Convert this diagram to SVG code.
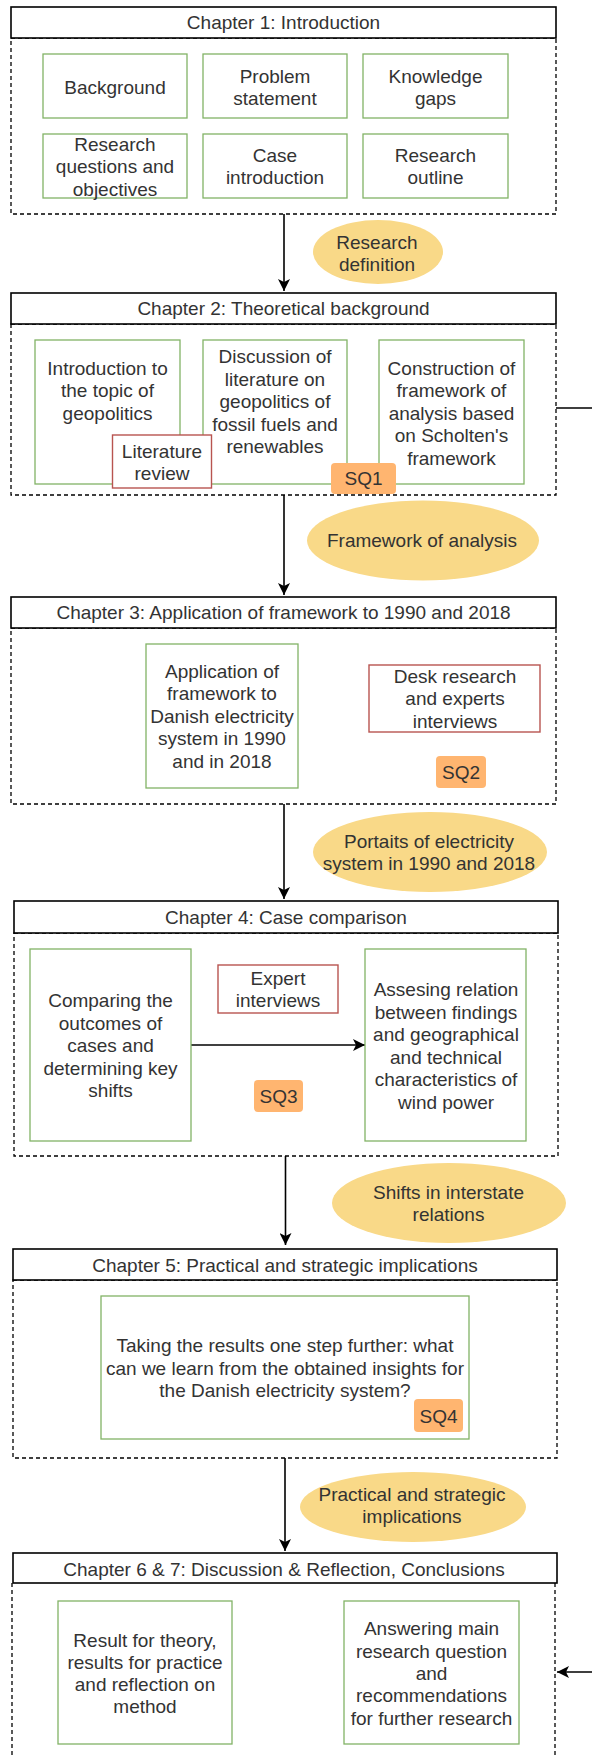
<svg xmlns="http://www.w3.org/2000/svg" width="592" height="1756" viewBox="0 0 592 1756">
<style>
text{font-family:"Liberation Sans",Arial,Helvetica,sans-serif;font-size:19px;fill:#333;text-anchor:middle}
.hdr{fill:#fff;stroke:#000;stroke-width:1.6}
.cont{fill:none;stroke:#000;stroke-width:1.3;stroke-dasharray:4 3}
.g{fill:#fff;stroke:#82b366;stroke-width:1.3}
.r{fill:#fff;stroke:#b85450;stroke-width:1.4}
.sq{fill:#FFB570;stroke:none}
.ell{fill:#F9D988;stroke:none}
.c{fill:none;stroke:#000;stroke-width:1.6}
</style>
<defs>
<marker id="ah" markerUnits="userSpaceOnUse" markerWidth="13" markerHeight="12" refX="12" refY="6" orient="auto">
<path d="M0,0 L12,6 L0,12 L3,6 z" fill="#000"/>
</marker>
</defs>
<rect width="592" height="1756" fill="#fff"/>

<g id="chapter1">
<rect class="cont" x="11" y="38" width="545" height="176"/>
<rect class="hdr" x="11" y="7" width="545" height="31"/>
<text x="283.5" y="29">Chapter 1: Introduction</text>
</g>
<g id="background"><rect class="g" x="43" y="54" width="144" height="64"/><text x="115" y="93.5">Background</text></g>
<g id="problem"><rect class="g" x="203" y="54" width="144" height="64"/><text x="275" y="82.5">Problem</text><text x="275" y="105">statement</text></g>
<g id="gaps"><rect class="g" x="363" y="54" width="145" height="64"/><text x="435.5" y="82.5">Knowledge</text><text x="435.5" y="105">gaps</text></g>
<g id="questions"><rect class="g" x="43" y="134" width="144" height="64"/><text x="115" y="151">Research</text><text x="115" y="173.3">questions and</text><text x="115" y="195.5">objectives</text></g>
<g id="case"><rect class="g" x="203" y="134" width="144" height="64"/><text x="275" y="162">Case</text><text x="275" y="184">introduction</text></g>
<g id="outline"><rect class="g" x="363" y="134" width="145" height="64"/><text x="435.5" y="162">Research</text><text x="435.5" y="184">outline</text></g>

<g id="connectors">
<path class="c" d="M284,214 V291" marker-end="url(#ah)"/>
<path class="c" d="M284,495 V595" marker-end="url(#ah)"/>
<path class="c" d="M284,804 V899" marker-end="url(#ah)"/>
<path class="c" d="M285.5,1156 V1245" marker-end="url(#ah)"/>
<path class="c" d="M285,1458 V1551" marker-end="url(#ah)"/>
<path class="c" d="M191,1045 H365" marker-end="url(#ah)"/>
<path class="c" d="M556,408 H620 V1672 H557" marker-end="url(#ah)"/>
</g>

<g id="research-definition"><ellipse class="ell" cx="378" cy="252" rx="65" ry="32"/><text x="377" y="248.8">Research</text><text x="377" y="270.5">definition</text></g>

<g id="chapter2">
<rect class="cont" x="11" y="324" width="545" height="171"/>
<rect class="hdr" x="11" y="293" width="545" height="31"/>
<text x="283.5" y="315">Chapter 2: Theoretical background</text>
</g>
<g id="intro-geo"><rect class="g" x="35" y="340" width="145" height="144"/><text x="107.5" y="374.8">Introduction to</text><text x="107.5" y="397.3">the topic of</text><text x="107.5" y="419.8">geopolitics</text></g>
<g id="discussion"><rect class="g" x="203" y="340" width="144" height="144"/><text x="275" y="363.2">Discussion of</text><text x="275" y="385.7">literature on</text><text x="275" y="408.2">geopolitics of</text><text x="275" y="430.7">fossil fuels and</text><text x="275" y="453.2">renewables</text></g>
<g id="construction"><rect class="g" x="379" y="340" width="145" height="144"/><text x="451.5" y="374.8">Construction of</text><text x="451.5" y="397.3">framework of</text><text x="451.5" y="419.8">analysis based</text><text x="451.5" y="442.3">on Scholten's</text><text x="451.5" y="464.8">framework</text></g>
<g id="literature-review"><rect class="r" x="112.5" y="435" width="99" height="53"/><text x="162" y="457.5">Literature</text><text x="162" y="480">review</text></g>
<g id="sq1"><rect class="sq" x="331" y="463" width="65" height="31" rx="4"/><text x="363.5" y="485">SQ1</text></g>

<g id="framework-analysis"><ellipse class="ell" cx="423" cy="540.5" rx="116" ry="40"/><text x="422" y="547">Framework of analysis</text></g>

<g id="chapter3">
<rect class="cont" x="11" y="628" width="545" height="176"/>
<rect class="hdr" x="11" y="597" width="545" height="31"/>
<text x="283.5" y="619">Chapter 3: Application of framework to 1990 and 2018</text>
</g>
<g id="application"><rect class="g" x="146" y="644" width="152" height="144"/><text x="222" y="677.5">Application of</text><text x="222" y="700">framework to</text><text x="222" y="722.5">Danish electricity</text><text x="222" y="745">system in 1990</text><text x="222" y="767.5">and in 2018</text></g>
<g id="desk-research"><rect class="r" x="369" y="665" width="171" height="67"/><text x="455" y="682.5">Desk research</text><text x="455" y="705">and experts</text><text x="455" y="727.5">interviews</text></g>
<g id="sq2"><rect class="sq" x="436" y="756" width="50" height="32" rx="4"/><text x="461" y="778.5">SQ2</text></g>

<g id="portraits"><ellipse class="ell" cx="430" cy="852" rx="117" ry="40"/><text x="429" y="848.2">Portaits of electricity</text><text x="429" y="870">system in 1990 and 2018</text></g>

<g id="chapter4">
<rect class="cont" x="14" y="933" width="544" height="223"/>
<rect class="hdr" x="14" y="901" width="544" height="32"/>
<text x="286" y="924.2">Chapter 4: Case comparison</text>
</g>
<g id="comparing"><rect class="g" x="30" y="949" width="161" height="192"/><text x="110.5" y="1007">Comparing the</text><text x="110.5" y="1029.5">outcomes of</text><text x="110.5" y="1052">cases and</text><text x="110.5" y="1074.5">determining key</text><text x="110.5" y="1097">shifts</text></g>
<g id="assesing"><rect class="g" x="365" y="949" width="161" height="192"/><text x="446" y="996">Assesing relation</text><text x="446" y="1018.5">between findings</text><text x="446" y="1041">and geographical</text><text x="446" y="1063.5">and technical</text><text x="446" y="1086">characteristics of</text><text x="446" y="1108.5">wind power</text></g>
<g id="expert-interviews"><rect class="r" x="218" y="965" width="120" height="48"/><text x="278" y="984.8">Expert</text><text x="278" y="1007.3">interviews</text></g>
<g id="sq3"><rect class="sq" x="254" y="1080" width="49" height="32" rx="4"/><text x="278.5" y="1102.5">SQ3</text></g>

<g id="shifts"><ellipse class="ell" cx="449" cy="1203" rx="117" ry="40"/><text x="448.5" y="1198.8">Shifts in interstate</text><text x="448.5" y="1220.8">relations</text></g>

<g id="chapter5">
<rect class="cont" x="13" y="1280" width="544" height="178"/>
<rect class="hdr" x="13" y="1249" width="544" height="31"/>
<text x="285" y="1271.5">Chapter 5: Practical and strategic implications</text>
</g>
<g id="taking"><rect class="g" x="101" y="1296" width="368" height="143"/><text x="285" y="1352.2">Taking the results one step further: what</text><text x="285" y="1374.8">can we learn from the obtained insights for</text><text x="285" y="1397.2">the Danish electricity system?</text></g>
<g id="sq4"><rect class="sq" x="414" y="1399" width="49" height="33" rx="4"/><text x="438.5" y="1422.5">SQ4</text></g>

<g id="practical"><ellipse class="ell" cx="413" cy="1507" rx="113" ry="35"/><text x="412" y="1500.5">Practical and strategic</text><text x="412" y="1523.2">implications</text></g>

<g id="chapter6">
<path class="cont" d="M12,1583 V1760 M555,1583 V1760"/>
<rect class="hdr" x="13" y="1553" width="544" height="30"/>
<text x="284" y="1575.5">Chapter 6 &amp; 7: Discussion &amp; Reflection, Conclusions</text>
</g>
<g id="result-theory"><rect class="g" x="58" y="1601" width="174" height="143"/><text x="145" y="1646.5">Result for theory,</text><text x="145" y="1668.8">results for practice</text><text x="145" y="1690.8">and reflection on</text><text x="145" y="1713.2">method</text></g>
<g id="answering"><rect class="g" x="344" y="1601" width="175" height="143"/><text x="431.5" y="1634.8">Answering main</text><text x="431.5" y="1657.5">research question</text><text x="431.5" y="1679.8">and</text><text x="431.5" y="1702.2">recommendations</text><text x="431.5" y="1724.8">for further research</text></g>
</svg>
